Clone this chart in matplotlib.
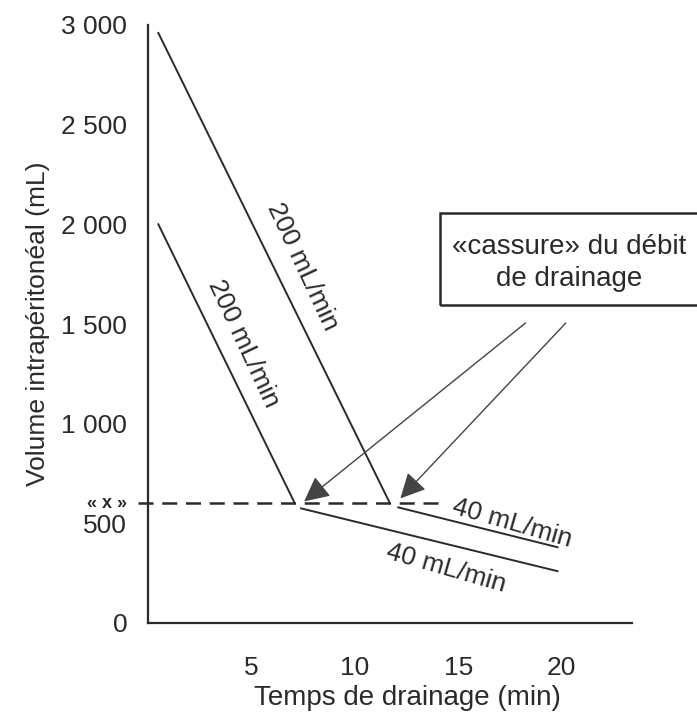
import matplotlib
matplotlib.use("Agg")
import matplotlib.pyplot as plt
from matplotlib.patches import Rectangle

plt.rcParams["font.family"] = ["Liberation Sans", "DejaVu Sans"]

# fast drainage (200 mL/min) then slow drainage (40 mL/min) after the break point
fast_3l_t = [0.5, 11.7]
fast_3l_v = [2960, 600]
slow_3l_t = [12.1, 19.8]
slow_3l_v = [580, 380]

fast_2l_t = [0.5, 7.1]
fast_2l_v = [2000, 600]
slow_2l_t = [7.4, 19.8]
slow_2l_v = [575, 260]

x_level = 600
dash_t = [-0.5, 14.3]

y_ticks = [0, 500, 600, 1000, 1500, 2000, 2500, 3000]
y_labels = ["0", "500", "« x »", "1 000", "1 500", "2 000", "2 500", "3 000"]
x_ticks = [5, 10, 15, 20]

ink = "#2a2a2a"
fs = 19

fig = plt.figure(figsize=(6.97, 7.15), dpi=100)
ax = fig.add_axes([148 / 697, 1 - 623 / 715, (632 - 148) / 697, (623 - 25) / 715])

ax.plot(fast_3l_t, fast_3l_v, color=ink, lw=1.4)
ax.plot(slow_3l_t, slow_3l_v, color=ink, lw=1.4)
ax.plot(fast_2l_t, fast_2l_v, color=ink, lw=1.4)
ax.plot(slow_2l_t, slow_2l_v, color=ink, lw=1.4)
ax.plot(dash_t, [x_level, x_level], color=ink, lw=1.8, ls=(0, (6, 3.5)),
        clip_on=False)

ax.set_xlim(0, 23.4)
ax.set_ylim(0, 3000)
for s in ["top", "right"]:
    ax.spines[s].set_visible(False)
for s in ["left", "bottom"]:
    ax.spines[s].set_color(ink)
    ax.spines[s].set_linewidth(1.6)

ax.set_yticks(y_ticks)
ax.set_yticklabels(y_labels)
ax.set_xticks(x_ticks)
ax.tick_params(axis="y", length=0, pad=15, labelsize=fs, labelcolor=ink)
ax.tick_params(axis="x", length=0, pad=24, labelsize=fs, labelcolor=ink)
for lab in ax.get_yticklabels():
    if lab.get_text() == "« x »":
        lab.set_fontsize(13)
        lab.set_fontweight("bold")
        lab.set_va("center")

ax.set_xlabel("Temps de drainage (min)", fontsize=20, color=ink, va="center")
ax.xaxis.set_label_coords(0.535, -0.126)
ax.set_ylabel("Volume intrapéritonéal (mL)", fontsize=fs, color=ink, labelpad=8)

# rate labels along the segments
ax.text(7.45, 1790, "200 mL/min", rotation=-65, rotation_mode="anchor",
        ha="center", va="center", fontsize=fs, color=ink)
ax.text(4.6, 1400, "200 mL/min", rotation=-65, rotation_mode="anchor",
        ha="center", va="center", fontsize=fs, color=ink)
ax.text(17.6, 500, "40 mL/min", rotation=-16, rotation_mode="anchor",
        ha="center", va="center", fontsize=fs, color=ink)
ax.text(14.4, 275, "40 mL/min", rotation=-16, rotation_mode="anchor",
        ha="center", va="center", fontsize=fs, color=ink)

# break-point arrows
arrow = dict(arrowstyle="-|>,head_length=0.7,head_width=0.35",
             mutation_scale=22, color="#444444", lw=1.0, shrinkA=0, shrinkB=0)
ax.annotate("", xy=(7.55, 610), xytext=(18.25, 1505), arrowprops=arrow,
            annotation_clip=False)
ax.annotate("", xy=(12.2, 625), xytext=(20.2, 1505), arrowprops=arrow,
            annotation_clip=False)

# callout box, cut by the right edge of the page
box = Rectangle((440 / 697, 1 - 305 / 715), 0.5, 92 / 715,
                transform=fig.transFigure, fill=False, ec=ink, lw=1.8)
fig.patches.append(box)
fig.text(569 / 697, 1 - 247 / 715, "«cassure» du débit", ha="center",
         va="center", fontsize=20, color=ink)
fig.text(569 / 697, 1 - 279 / 715, "de drainage", ha="center",
         va="center", fontsize=20, color=ink)

fig.savefig("out.png", dpi=100)
